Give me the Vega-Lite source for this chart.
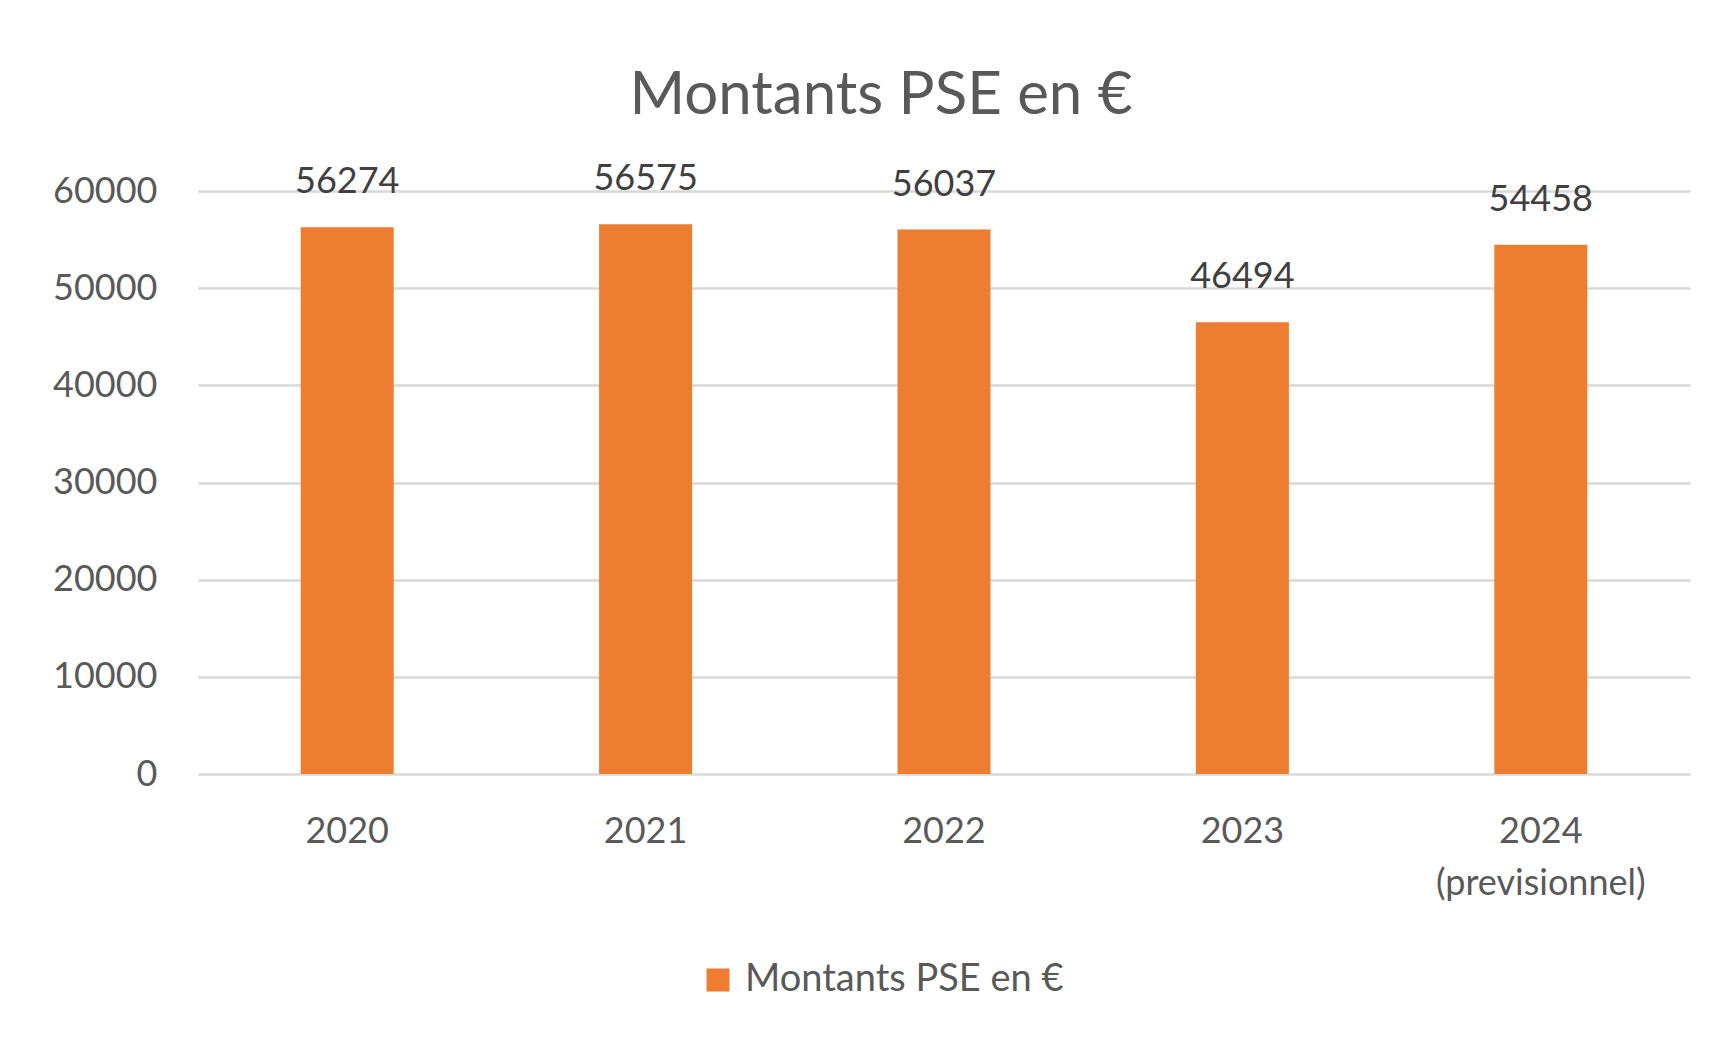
{
  "$schema": "https://vega.github.io/schema/vega-lite/v6.json",
  "autosize": "none",
  "width": 1492,
  "height": 583,
  "padding": {"left": 198, "top": 191, "right": 33, "bottom": 266},
  "background": "#ffffff",
  "config": {
    "view": {"stroke": null},
    "font": "Lato",
    "axis": {"labelFont": "Lato", "labelColor": "#595959", "labelFontSize": 36}
  },
  "title": {
    "text": "Montants PSE en €",
    "font": "Lato",
    "fontSize": 60,
    "fontWeight": "normal",
    "color": "#595959",
    "anchor": "middle",
    "dx": -63,
    "offset": 34
  },
  "data": {
    "values": [
      {"year": "2020", "value": 56274, "series": "Montants PSE en €"},
      {"year": "2021", "value": 56575, "series": "Montants PSE en €"},
      {"year": "2022", "value": 56037, "series": "Montants PSE en €"},
      {"year": "2023", "value": 46494, "series": "Montants PSE en €"},
      {"year": "2024 (previsionnel)", "value": 54458, "series": "Montants PSE en €"}
    ]
  },
  "encoding": {
    "x": {
      "field": "year",
      "type": "nominal",
      "sort": null,
      "scale": {"paddingInner": 0, "paddingOuter": 0},
      "axis": {
        "title": null,
        "labelAngle": 0,
        "domain": false,
        "ticks": false,
        "labelPadding": 40,
        "labelLineHeight": 52,
        "labelLimit": 0,
        "labelExpr": "split(datum.value, ' ')"
      }
    },
    "y": {
      "field": "value",
      "type": "quantitative",
      "scale": {"domain": [0, 60000]},
      "axis": {
        "title": null,
        "values": [0, 10000, 20000, 30000, 40000, 50000, 60000],
        "format": "d",
        "domain": false,
        "ticks": false,
        "labelPadding": 41,
        "gridColor": "#D9D9D9",
        "gridWidth": 2.5
      }
    }
  },
  "layer": [
    {
      "mark": {"type": "bar", "width": 93},
      "encoding": {
        "color": {
          "field": "series",
          "type": "nominal",
          "scale": {"range": ["#ED7D31"]},
          "legend": {
            "title": null,
            "orient": "none",
            "legendX": 501,
            "legendY": 770,
            "symbolType": "square",
            "symbolSize": 529,
            "symbolStrokeWidth": 0,
            "symbolOpacity": 1,
            "labelFont": "Lato",
            "labelFontSize": 38,
            "labelColor": "#595959",
            "labelOffset": 8,
            "labelLimit": 0
          }
        }
      }
    },
    {
      "mark": {"type": "text", "baseline": "alphabetic", "dy": -34, "font": "Lato", "fontSize": 36, "color": "#404040"},
      "encoding": {"text": {"field": "value", "type": "quantitative", "format": "d"}}
    }
  ]
}
